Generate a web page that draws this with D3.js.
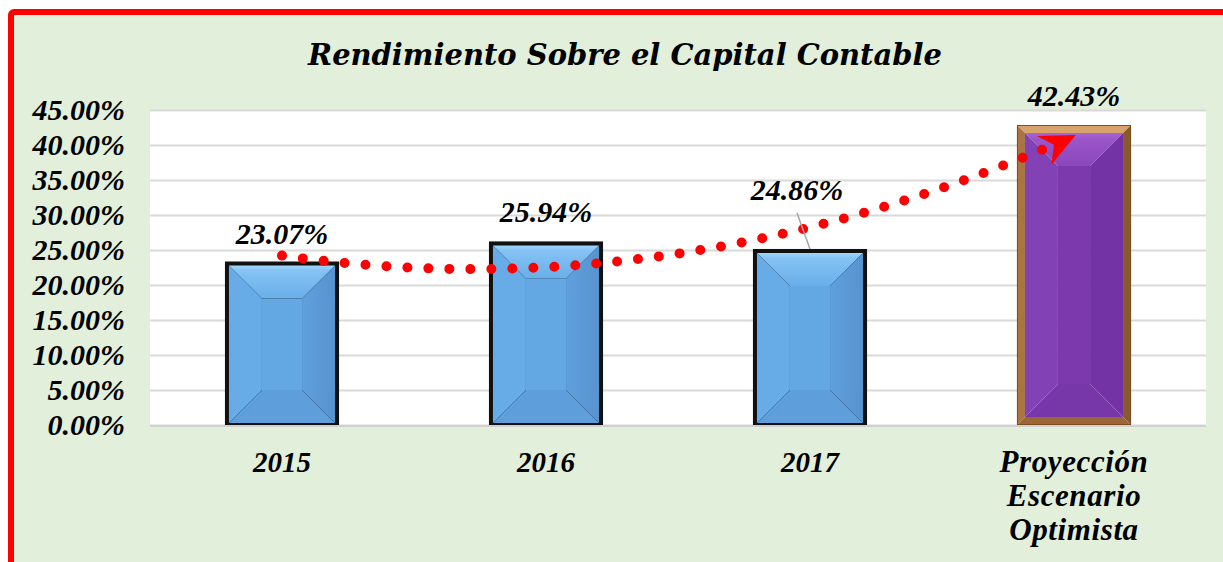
<!DOCTYPE html>
<html><head><meta charset="utf-8">
<script src="https://cdn.jsdelivr.net/npm/d3@7"></script>
<style>body{margin:0;background:#fff;overflow:hidden}svg{display:block}</style>
</head><body>
<script>
// ---- data ----
const title = "Rendimiento Sobre el Capital Contable";
const categories = ["2015", "2016", "2017", "Proyección Escenario Optimista"];
const categoryLines = [["2015"], ["2016"], ["2017"], ["Proyección", "Escenario", "Optimista"]];
const values = [23.07, 25.94, 24.86, 42.43];
const valueLabels = ["23.07%", "25.94%", "24.86%", "42.43%"];
const yTicks = [0, 5, 10, 15, 20, 25, 30, 35, 40, 45];
const yTickLabels = ["0.00%", "5.00%", "10.00%", "15.00%", "20.00%", "25.00%", "30.00%", "35.00%", "40.00%", "45.00%"];

const W = 1223, H = 562;
const plot = {left: 150, right: 1206, top: 110, bottom: 425};
const numFont = "'Liberation Serif','Times New Roman',serif";
const titleFont = "'DejaVu Serif',serif";

const svg = d3.select("body").append("svg").attr("width", W).attr("height", H);
const defs = svg.append("defs");

// background + red frame
svg.append("rect").attr("x", 11).attr("y", 12).attr("width", W + 20).attr("height", H + 20)
  .attr("rx", 3).attr("fill", "#e2efda").attr("stroke", "#ff0000").attr("stroke-width", 6);

// scales
const x = d3.scaleBand().domain(categories).range([plot.left, plot.right])
  .paddingInner(0.583).paddingOuter(0.2915);
const y = d3.scaleLinear().domain([0, 45]).range([plot.bottom, plot.top]);

// plot area
svg.append("rect").attr("x", plot.left).attr("y", plot.top)
  .attr("width", plot.right - plot.left).attr("height", plot.bottom - plot.top).attr("fill", "#fff");

// gridlines + y labels
const yAxis = d3.axisLeft(y).tickValues(yTicks).tickSize(-(plot.right - plot.left))
  .tickFormat((d, i) => yTickLabels[i]).tickPadding(25);
const gy = svg.append("g").attr("transform", `translate(${plot.left},0)`).call(yAxis);
gy.select(".domain").remove();
gy.selectAll(".tick line").attr("stroke", "#d9d9d9").attr("stroke-width", 2);
gy.selectAll(".tick text").attr("font-family", numFont).attr("font-size", 30)
  .attr("font-weight", "bold").attr("font-style", "italic").attr("fill", "#000")
  .attr("dy", null).attr("y", 9).attr("x", -25);

// bevel drawing
function bevel(g, x0, y0, w, h, b, c) {
  const x1 = x0 + w, y1 = y0 + h;
  const bb = Math.min(b, w / 2 - 2, h / 2 - 2);
  const ix0 = x0 + bb, ix1 = x1 - bb, iy0 = y0 + bb, iy1 = y1 - bb;
  if (c.center !== "none")
    g.append("rect").attr("x", ix0).attr("y", iy0).attr("width", ix1 - ix0).attr("height", iy1 - iy0).attr("fill", c.center);
  g.append("polygon").attr("points", [[x0, y0], [x1, y0], [ix1, iy0], [ix0, iy0]].join(" ")).attr("fill", c.top);
  g.append("polygon").attr("points", [[x0, y0], [ix0, iy0], [ix0, iy1], [x0, y1]].join(" ")).attr("fill", c.left);
  g.append("polygon").attr("points", [[x1, y0], [x1, y1], [ix1, iy1], [ix1, iy0]].join(" ")).attr("fill", c.right);
  g.append("polygon").attr("points", [[x0, y1], [ix0, iy1], [ix1, iy1], [x1, y1]].join(" ")).attr("fill", c.bottom);
}

function linGrad(id, x1, y1, x2, y2, stops) {
  const lg = defs.append("linearGradient").attr("id", id)
    .attr("x1", x1).attr("y1", y1).attr("x2", x2).attr("y2", y2);
  stops.forEach(s => lg.append("stop").attr("offset", s[0]).attr("stop-color", s[1]));
  return `url(#${id})`;
}
const blueTop = linGrad("bt", 0, 0, 0, 1, [[0, "#a3d6fb"], [0.15, "#84c3f4"], [1, "#6aaee9"]]);
const blueRight = linGrad("br", 0, 0, 1, 0, [[0, "#5fa0dc"], [1, "#5793cf"]]);
const purpleTop = linGrad("pt", 0, 0, 0, 1, [[0, "#a865d6"], [0.2, "#9a55c9"], [1, "#8a46bb"]]);
const blue = {top: blueTop, left: "#67abe7", right: blueRight, bottom: "#5e9edb", center: "#63a7e3"};
const purple = {top: purpleTop, left: "#8241b5", right: "#7333a5", bottom: "#7737a9", center: "#7b39ad"};
const brown = {top: "#d9a36c", left: "#a9743f", right: "#8a5a2c", bottom: "#9b6835", center: "none"};

const bars = svg.append("g");
values.forEach((v, i) => {
  const bx = x(categories[i]), bw = x.bandwidth();
  const by = y(v), bh = y(0) - y(v);
  const g = bars.append("g");
  if (i < 3) {
    g.append("rect").attr("x", bx).attr("y", by).attr("width", bw).attr("height", bh)
      .attr("fill", "#000").attr("stroke", "#111").attr("stroke-width", 4);
    bevel(g, bx + 2, by + 2, bw - 4, bh - 4, 33, blue);
  } else {
    const fx = bx - 2, fy = by - 3, fw = bw + 4, fh = bh + 3;
    bevel(g, fx, fy, fw, fh, 8, brown);
    g.append("rect").attr("x", fx + 0.5).attr("y", fy + 0.5).attr("width", fw - 1).attr("height", fh - 1)
      .attr("fill", "none").attr("stroke", "#7a4e22").attr("stroke-width", 1);
    bevel(g, fx + 8, fy + 8, fw - 16, fh - 16, 33, purple);
  }
});

// axis baseline
svg.append("line").attr("x1", plot.left).attr("x2", plot.right).attr("y1", plot.bottom + 1).attr("y2", plot.bottom + 1)
  .attr("stroke", "#d0d0d0").attr("stroke-width", 2);

// polynomial (order 2) trendline, least-squares fit of the values
const n = values.length;
const ts = values.map((_, i) => i + 1);
function polyFit(xs, ys, deg) {
  const m = deg + 1;
  const A = Array.from({length: m}, () => Array(m + 1).fill(0));
  xs.forEach((xv, k) => {
    for (let r = 0; r < m; r++) {
      for (let c = 0; c < m; c++) A[r][c] += Math.pow(xv, r + c);
      A[r][m] += ys[k] * Math.pow(xv, r);
    }
  });
  for (let p = 0; p < m; p++) {
    let piv = p;
    for (let r = p + 1; r < m; r++) if (Math.abs(A[r][p]) > Math.abs(A[piv][p])) piv = r;
    [A[p], A[piv]] = [A[piv], A[p]];
    for (let r = 0; r < m; r++) {
      if (r === p) continue;
      const f = A[r][p] / A[p][p];
      for (let c = p; c <= m; c++) A[r][c] -= f * A[p][c];
    }
  }
  return A.map((row, r) => row[m] / row[r]);
}
const coef = polyFit(ts, values, 2);
const trend = t => coef[0] + coef[1] * t + coef[2] * t * t;
const step = x.step();
const cx0 = x(categories[0]) + x.bandwidth() / 2;
const tx = t => cx0 + (t - 1) * step;
const samples = d3.range(1, n + 0.0001, 0.02).map(t => [tx(t), y(trend(t))]);

defs.append("marker").attr("id", "arrow").attr("markerUnits", "userSpaceOnUse")
  .attr("viewBox", "-40 -20 44 40").attr("markerWidth", 44).attr("markerHeight", 40)
  .attr("refX", 0).attr("refY", 0).attr("orient", "auto")
  .append("path").attr("d", "M2,0 L-34,-15 L-22,0 L-32,17 Z").attr("fill", "#ff0000");

svg.append("path").attr("d", d3.line()(samples)).attr("fill", "none")
  .attr("stroke", "#ff0000").attr("stroke-width", 10).attr("stroke-linecap", "round")
  .attr("stroke-dasharray", "0 21").attr("marker-end", "url(#arrow)");

// data labels
const labelOffset = [[0, -20], [0, -21], [-13, -51], [0, -22]];
const lbl = svg.append("g");
values.forEach((v, i) => {
  const cx = x(categories[i]) + x.bandwidth() / 2 + labelOffset[i][0];
  const cy = y(v) + labelOffset[i][1];
  if (i === 2) {
    lbl.append("line").attr("x1", cx).attr("y1", cy + 13).attr("x2", x(categories[i]) + x.bandwidth() / 2)
      .attr("y2", y(v) - 2).attr("stroke", "#a6a6a6").attr("stroke-width", 1.5);
  }
  lbl.append("text").attr("x", cx).attr("y", cy).attr("text-anchor", "middle")
    .attr("font-family", numFont).attr("font-size", 30).attr("font-weight", "bold")
    .attr("font-style", "italic").attr("fill", "#000").text(valueLabels[i]);
});

// x labels
const xl = svg.append("g");
categories.forEach((c, i) => {
  const cx = x(c) + x.bandwidth() / 2;
  const t = xl.append("text").attr("text-anchor", "middle").attr("font-family", numFont)
    .attr("font-weight", "bold").attr("font-style", "italic").attr("fill", "#000");
  const lines = categoryLines[i];
  t.attr("font-size", lines.length > 1 ? 31 : 29);
  lines.forEach((ln, k) => {
    t.append("tspan").attr("x", cx).attr("y", 472 + k * 34)
      .attr("letter-spacing", lines.length > 1 ? 0.6 : 0).text(ln);
  });
});

// title
const tt = svg.append("text").attr("x", 625).attr("y", 65).attr("text-anchor", "middle")
  .attr("font-family", titleFont).attr("font-weight", "bold").attr("font-style", "italic")
  .attr("font-size", 30).attr("fill", "#000").text(title);
const tl = tt.node().getComputedTextLength();
tt.attr("font-size", 30 * 634 / tl);
</script>
</body></html>
